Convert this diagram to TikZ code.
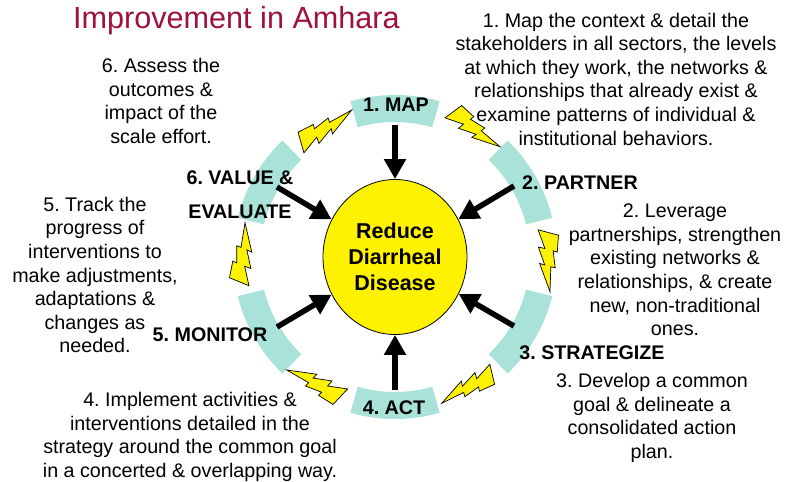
\documentclass[tikz,border=0pt]{standalone}
\usepackage{fontspec}
\setmainfont{Liberation Sans}
\usetikzlibrary{arrows.meta,shapes.geometric,calc}
\definecolor{ringteal}{RGB}{168,226,216}
\definecolor{titlered}{RGB}{158,16,62}
\frenchspacing
\tikzset{
  desc/.style={align=center, inner sep=0pt, font=\fontsize{19.7}{23.6}\selectfont},
  steplabel/.style={inner sep=0pt, align=center, font=\fontsize{19.7}{23.6}\selectfont\bfseries},
  segfill/.style={fill=ringteal},
  boltsty/.style={fill=yellow, draw=black, line width=0.7pt, line join=miter},
  pusharrow/.style={line width=5.5pt, -{Triangle[length=20pt,width=21pt]}},
}
\newcommand\ringseg[1]{%
  \fill[segfill] ($(cc)+(#1-16:135)$) arc[start angle=#1-16, end angle=#1+16, radius=135]
    -- ($(cc)+(#1+16:162)$) arc[start angle=#1+16, end angle=#1-16, radius=162] -- cycle;}
\newcommand\drawbolt[4]{%
  \pgfmathsetmacro\boltang{atan2(-(#4-#2),(#3-#1))}%
  \pgfmathsetmacro\boltlen{veclen(#3-#1,#4-#2)}%
  \begin{scope}[shift={(#1,#2)}, rotate=\boltang, scale=\boltlen]
    \draw[boltsty] (0.051,-0.170) -- (0.335,-0.142) -- (0.311,-0.072) -- (0.599,-0.099)
      -- (0.579,-0.026) -- (1,0) -- (0.517,0.162) -- (0.547,0.076) -- (0.241,0.174)
      -- (0.269,0.066) -- (-0.051,0.170) -- cycle;
  \end{scope}}
\begin{document}
\begin{tikzpicture}[x=1pt,y=-1pt]
\useasboundingbox (0,0) rectangle (790,482);
\fill[white] (0,0) rectangle (790,482);
\coordinate (cc) at (395,257);
% ring segments
\ringseg{-90}
\ringseg{-30}
\ringseg{30}
\ringseg{90}
\ringseg{150}
\ringseg{210}
% arrow start points
\coordinate (s1) at (395,125);
\coordinate (s2) at (514,186);
\coordinate (s3) at (514,326);
\coordinate (s4) at (395,390);
\coordinate (s5) at (277,327);
\coordinate (s6) at (277,187);
% centre
\node[ellipse, draw, line width=0.8pt, fill=yellow, minimum width=144pt, minimum height=155pt,
      inner sep=0pt, align=center, font=\fontsize{21.5}{26}\selectfont\bfseries] (c) at (cc)
      {Reduce\\Diarrheal\\Disease};
\draw[pusharrow] (s1) -- (c);
\draw[pusharrow] (s2) -- (c);
\draw[pusharrow] (s3) -- (c);
\draw[pusharrow] (s4) -- (c);
\draw[pusharrow] (s5) -- (c);
\draw[pusharrow] (s6) -- (c);
% step labels
\node[steplabel] (l1) at (396,105) {1. MAP};
\node[steplabel] (l2) at (580,183) {2. PARTNER};
\node[steplabel] (l3) at (592,353) {3. STRATEGIZE};
\node[steplabel] (l4) at (394,408) {4. ACT};
\node[steplabel] (l5) at (210,335) {5. MONITOR};
\node[steplabel, font=\fontsize{19.7}{34}\selectfont\bfseries] (l6) at (240,195) {6. VALUE \&\\EVALUATE};
% title
\node[anchor=base west, inner sep=0pt, font=\fontsize{30.6}{36}\selectfont, text=titlered] (title) at (73,28) {Improvement in Amhara};
% descriptions
\node[desc] (t1) at (616,79) {1. Map the context \& detail the\\stakeholders in all sectors, the levels\\at which they work, the networks \&\\relationships that already exist \&\\examine patterns of individual \&\\institutional behaviors.};
\node[desc] (t2) at (675,270) {2. Leverage\\partnerships, strengthen\\existing networks \&\\relationships, \& create\\new, non-traditional\\ones.};
\node[desc] (t3) at (652,418) {3. Develop a common\\goal \& delineate a\\consolidated action\\plan.};
\node[desc] (t4) at (190,437) {4. Implement activities \&\\interventions detailed in the\\strategy around the common goal\\in a concerted \& overlapping way.};
\node[desc] (t5) at (95,275) {5. Track the\\progress of\\interventions to\\make adjustments,\\adaptations \&\\changes as\\needed.};
\node[desc] (t6) at (161,101) {6. Assess the\\outcomes \&\\impact of the\\scale effort.};
% lightning bolts (flat end -> tip, clockwise)
\drawbolt{453.3}{111.7}{500}{146.7}
\drawbolt{548.3}{232.5}{550}{291.7}
\drawbolt{492.2}{374.3}{441.7}{403.3}
\drawbolt{340.3}{396.7}{286.7}{370}
\drawbolt{239.2}{281.7}{245}{222.7}
\drawbolt{301}{142.5}{351.7}{110}
\end{tikzpicture}
\end{document}
